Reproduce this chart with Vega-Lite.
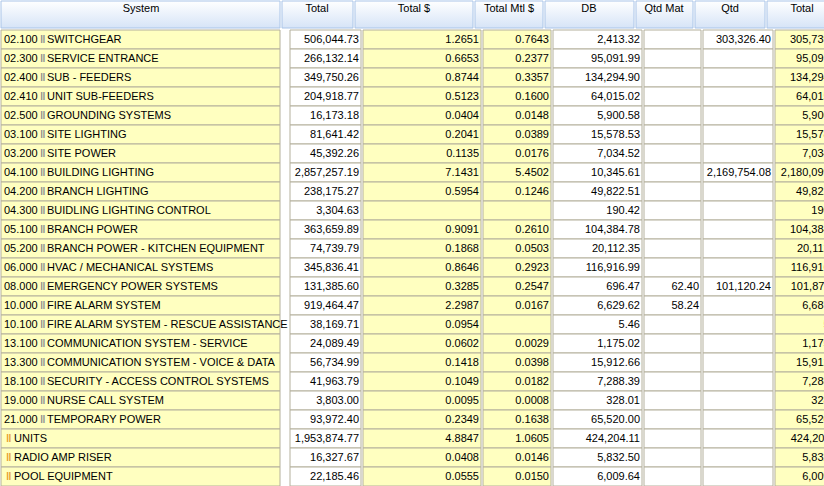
{
  "$schema": "https://vega.github.io/schema/vega-lite/v6.json",
  "padding": 0,
  "spacing": 0,
  "background": "white",
  "config": {"view": {"stroke": null}, "concat": {"spacing": 0}, "text": {"font": "Liberation Sans", "fontSize": 11, "color": "#000000"}},
  "datasets": {
    "rows": [
      {"i": 1, "code": "02.100", "name": "SWITCHGEAR", "total": "506,044.73", "totalD": "1.2651", "totalMtl": "0.7643", "db": "2,413.32", "qtdMat": "", "qtd": "303,326.40", "grand": "305,739.72"},
      {"i": 2, "code": "02.300", "name": "SERVICE ENTRANCE", "total": "266,132.14", "totalD": "0.6653", "totalMtl": "0.2377", "db": "95,091.99", "qtdMat": "", "qtd": "", "grand": "95,091.99"},
      {"i": 3, "code": "02.400", "name": "SUB - FEEDERS", "total": "349,750.26", "totalD": "0.8744", "totalMtl": "0.3357", "db": "134,294.90", "qtdMat": "", "qtd": "", "grand": "134,294.90"},
      {"i": 4, "code": "02.410", "name": "UNIT SUB-FEEDERS", "total": "204,918.77", "totalD": "0.5123", "totalMtl": "0.1600", "db": "64,015.02", "qtdMat": "", "qtd": "", "grand": "64,015.02"},
      {"i": 5, "code": "02.500", "name": "GROUNDING SYSTEMS", "total": "16,173.18", "totalD": "0.0404", "totalMtl": "0.0148", "db": "5,900.58", "qtdMat": "", "qtd": "", "grand": "5,900.58"},
      {"i": 6, "code": "03.100", "name": "SITE LIGHTING", "total": "81,641.42", "totalD": "0.2041", "totalMtl": "0.0389", "db": "15,578.53", "qtdMat": "", "qtd": "", "grand": "15,578.53"},
      {"i": 7, "code": "03.200", "name": "SITE POWER", "total": "45,392.26", "totalD": "0.1135", "totalMtl": "0.0176", "db": "7,034.52", "qtdMat": "", "qtd": "", "grand": "7,034.52"},
      {"i": 8, "code": "04.100", "name": "BUILDING LIGHTING", "total": "2,857,257.19", "totalD": "7.1431", "totalMtl": "5.4502", "db": "10,345.61", "qtdMat": "", "qtd": "2,169,754.08", "grand": "2,180,099.69"},
      {"i": 9, "code": "04.200", "name": "BRANCH LIGHTING", "total": "238,175.27", "totalD": "0.5954", "totalMtl": "0.1246", "db": "49,822.51", "qtdMat": "", "qtd": "", "grand": "49,822.51"},
      {"i": 10, "code": "04.300", "name": "BUIDLING LIGHTING CONTROL", "total": "3,304.63", "totalD": "", "totalMtl": "", "db": "190.42", "qtdMat": "", "qtd": "", "grand": "190.42"},
      {"i": 11, "code": "05.100", "name": "BRANCH POWER", "total": "363,659.89", "totalD": "0.9091", "totalMtl": "0.2610", "db": "104,384.78", "qtdMat": "", "qtd": "", "grand": "104,384.78"},
      {"i": 12, "code": "05.200", "name": "BRANCH POWER - KITCHEN EQUIPMENT", "total": "74,739.79", "totalD": "0.1868", "totalMtl": "0.0503", "db": "20,112.35", "qtdMat": "", "qtd": "", "grand": "20,112.35"},
      {"i": 13, "code": "06.000", "name": "HVAC / MECHANICAL SYSTEMS", "total": "345,836.41", "totalD": "0.8646", "totalMtl": "0.2923", "db": "116,916.99", "qtdMat": "", "qtd": "", "grand": "116,916.99"},
      {"i": 14, "code": "08.000", "name": "EMERGENCY POWER SYSTEMS", "total": "131,385.60", "totalD": "0.3285", "totalMtl": "0.2547", "db": "696.47", "qtdMat": "62.40", "qtd": "101,120.24", "grand": "101,879.11"},
      {"i": 15, "code": "10.000", "name": "FIRE ALARM SYSTEM", "total": "919,464.47", "totalD": "2.2987", "totalMtl": "0.0167", "db": "6,629.62", "qtdMat": "58.24", "qtd": "", "grand": "6,687.86"},
      {"i": 16, "code": "10.100", "name": "FIRE ALARM SYSTEM - RESCUE ASSISTANCE", "total": "38,169.71", "totalD": "0.0954", "totalMtl": "", "db": "5.46", "qtdMat": "", "qtd": "", "grand": "5.46"},
      {"i": 17, "code": "13.100", "name": "COMMUNICATION SYSTEM - SERVICE", "total": "24,089.49", "totalD": "0.0602", "totalMtl": "0.0029", "db": "1,175.02", "qtdMat": "", "qtd": "", "grand": "1,175.02"},
      {"i": 18, "code": "13.300", "name": "COMMUNICATION SYSTEM - VOICE & DATA", "total": "56,734.99", "totalD": "0.1418", "totalMtl": "0.0398", "db": "15,912.66", "qtdMat": "", "qtd": "", "grand": "15,912.66"},
      {"i": 19, "code": "18.100", "name": "SECURITY - ACCESS CONTROL SYSTEMS", "total": "41,963.79", "totalD": "0.1049", "totalMtl": "0.0182", "db": "7,288.39", "qtdMat": "", "qtd": "", "grand": "7,288.39"},
      {"i": 20, "code": "19.000", "name": "NURSE CALL SYSTEM", "total": "3,803.00", "totalD": "0.0095", "totalMtl": "0.0008", "db": "328.01", "qtdMat": "", "qtd": "", "grand": "328.01"},
      {"i": 21, "code": "21.000", "name": "TEMPORARY POWER", "total": "93,972.40", "totalD": "0.2349", "totalMtl": "0.1638", "db": "65,520.00", "qtdMat": "", "qtd": "", "grand": "65,520.00"},
      {"i": 22, "code": "", "name": "UNITS", "total": "1,953,874.77", "totalD": "4.8847", "totalMtl": "1.0605", "db": "424,204.11", "qtdMat": "", "qtd": "", "grand": "424,204.11"},
      {"i": 23, "code": "", "name": "RADIO AMP RISER", "total": "16,327.67", "totalD": "0.0408", "totalMtl": "0.0146", "db": "5,832.50", "qtdMat": "", "qtd": "", "grand": "5,832.50"},
      {"i": 24, "code": "", "name": "POOL EQUIPMENT", "total": "22,185.46", "totalD": "0.0555", "totalMtl": "0.0150", "db": "6,009.64", "qtdMat": "", "qtd": "", "grand": "6,009.64"}
    ]
  },
  "vconcat": [
    {
      "spacing": 0,
      "hconcat": [
        {"width": 279, "height": 28, "data": {"values": [{"h": "System"}]}, "layer": [
          {"mark": {"type": "rect", "stroke": "#a9c4e8", "fill": {"gradient": "linear", "x1": 0, "y1": 0, "x2": 0, "y2": 1, "stops": [{"offset": 0, "color": "#ffffff"}, {"offset": 1, "color": "#d6e4f7"}]}}, "encoding": {"x": {"value": 0}, "x2": {"value": "width"}, "y": {"value": 1}, "y2": {"value": "height"}}},
          {"mark": {"type": "text", "baseline": "middle", "dy": -5}, "encoding": {"text": {"field": "h"}, "x": {"value": 140}, "y": {"value": 14}}}]},
        {"width": 71, "height": 28, "data": {"values": [{"h": "Total"}]}, "layer": [
          {"mark": {"type": "rect", "stroke": "#a9c4e8", "fill": {"gradient": "linear", "x1": 0, "y1": 0, "x2": 0, "y2": 1, "stops": [{"offset": 0, "color": "#ffffff"}, {"offset": 1, "color": "#d6e4f7"}]}}, "encoding": {"x": {"value": 0}, "x2": {"value": "width"}, "y": {"value": 1}, "y2": {"value": "height"}}},
          {"mark": {"type": "text", "baseline": "middle", "dy": -5}, "encoding": {"text": {"field": "h"}, "x": {"value": 35}, "y": {"value": 14}}}]},
        {"width": 118, "height": 28, "data": {"values": [{"h": "Total $"}]}, "layer": [
          {"mark": {"type": "rect", "stroke": "#a9c4e8", "fill": {"gradient": "linear", "x1": 0, "y1": 0, "x2": 0, "y2": 1, "stops": [{"offset": 0, "color": "#ffffff"}, {"offset": 1, "color": "#d6e4f7"}]}}, "encoding": {"x": {"value": 0}, "x2": {"value": "width"}, "y": {"value": 1}, "y2": {"value": "height"}}},
          {"mark": {"type": "text", "baseline": "middle", "dy": -5}, "encoding": {"text": {"field": "h"}, "x": {"value": 59}, "y": {"value": 14}}}]},
        {"width": 68, "height": 28, "data": {"values": [{"h": "Total Mtl $"}]}, "layer": [
          {"mark": {"type": "rect", "stroke": "#a9c4e8", "fill": {"gradient": "linear", "x1": 0, "y1": 0, "x2": 0, "y2": 1, "stops": [{"offset": 0, "color": "#ffffff"}, {"offset": 1, "color": "#d6e4f7"}]}}, "encoding": {"x": {"value": 0}, "x2": {"value": "width"}, "y": {"value": 1}, "y2": {"value": "height"}}},
          {"mark": {"type": "text", "baseline": "middle", "dy": -5}, "encoding": {"text": {"field": "h"}, "x": {"value": 34}, "y": {"value": 14}}}]},
        {"width": 89, "height": 28, "data": {"values": [{"h": "DB"}]}, "layer": [
          {"mark": {"type": "rect", "stroke": "#a9c4e8", "fill": {"gradient": "linear", "x1": 0, "y1": 0, "x2": 0, "y2": 1, "stops": [{"offset": 0, "color": "#ffffff"}, {"offset": 1, "color": "#d6e4f7"}]}}, "encoding": {"x": {"value": 0}, "x2": {"value": "width"}, "y": {"value": 1}, "y2": {"value": "height"}}},
          {"mark": {"type": "text", "baseline": "middle", "dy": -5}, "encoding": {"text": {"field": "h"}, "x": {"value": 44}, "y": {"value": 14}}}]},
        {"width": 57, "height": 28, "data": {"values": [{"h": "Qtd Mat"}]}, "layer": [
          {"mark": {"type": "rect", "stroke": "#a9c4e8", "fill": {"gradient": "linear", "x1": 0, "y1": 0, "x2": 0, "y2": 1, "stops": [{"offset": 0, "color": "#ffffff"}, {"offset": 1, "color": "#d6e4f7"}]}}, "encoding": {"x": {"value": 0}, "x2": {"value": "width"}, "y": {"value": 1}, "y2": {"value": "height"}}},
          {"mark": {"type": "text", "baseline": "middle", "dy": -5}, "encoding": {"text": {"field": "h"}, "x": {"value": 28}, "y": {"value": 14}}}]},
        {"width": 70, "height": 28, "data": {"values": [{"h": "Qtd"}]}, "layer": [
          {"mark": {"type": "rect", "stroke": "#a9c4e8", "fill": {"gradient": "linear", "x1": 0, "y1": 0, "x2": 0, "y2": 1, "stops": [{"offset": 0, "color": "#ffffff"}, {"offset": 1, "color": "#d6e4f7"}]}}, "encoding": {"x": {"value": 0}, "x2": {"value": "width"}, "y": {"value": 1}, "y2": {"value": "height"}}},
          {"mark": {"type": "text", "baseline": "middle", "dy": -5}, "encoding": {"text": {"field": "h"}, "x": {"value": 35}, "y": {"value": 14}}}]},
        {"width": 72, "height": 28, "data": {"values": [{"h": "Total"}]}, "layer": [
          {"mark": {"type": "rect", "stroke": "#a9c4e8", "fill": {"gradient": "linear", "x1": 0, "y1": 0, "x2": 0, "y2": 1, "stops": [{"offset": 0, "color": "#ffffff"}, {"offset": 1, "color": "#d6e4f7"}]}}, "encoding": {"x": {"value": 0}, "x2": {"value": "width"}, "y": {"value": 1}, "y2": {"value": "height"}}},
          {"mark": {"type": "text", "baseline": "middle", "dy": -5}, "encoding": {"text": {"field": "h"}, "x": {"value": 35}, "y": {"value": 14}}}]}
      ]
    },
    {
      "data": {"name": "rows"},
      "spacing": 0,
      "hconcat": [
        {"width": 279, "height": 456, "layer": [
          {"mark": {"type": "rect", "fill": "#ffffc0", "stroke": "#b4b09c"}, "encoding": {"y": {"field": "i", "type": "ordinal", "axis": null, "scale": {"paddingInner": 0, "paddingOuter": 0}}, "x": {"value": 0}, "x2": {"value": "width"}}},
          {"mark": {"type": "text", "align": "left", "baseline": "middle"}, "encoding": {"y": {"field": "i", "type": "ordinal", "axis": null}, "x": {"value": 3}, "text": {"field": "code"}}},
          {"transform": [{"filter": "datum.code !== ''"}], "mark": {"type": "text", "align": "left", "baseline": "middle", "fontWeight": "bold", "color": "#909090"}, "encoding": {"y": {"field": "i", "type": "ordinal", "axis": null}, "x": {"value": 39}, "text": {"value": "‖"}}},
          {"transform": [{"filter": "datum.code !== ''"}], "mark": {"type": "text", "align": "left", "baseline": "middle"}, "encoding": {"y": {"field": "i", "type": "ordinal", "axis": null}, "x": {"value": 46}, "text": {"field": "name"}}},
          {"transform": [{"filter": "datum.code === ''"}], "mark": {"type": "text", "align": "left", "baseline": "middle", "fontWeight": "bold", "color": "#e8a030"}, "encoding": {"y": {"field": "i", "type": "ordinal", "axis": null}, "x": {"value": 5}, "text": {"value": "‖"}}},
          {"transform": [{"filter": "datum.code === ''"}], "mark": {"type": "text", "align": "left", "baseline": "middle"}, "encoding": {"y": {"field": "i", "type": "ordinal", "axis": null}, "x": {"value": 13}, "text": {"field": "name"}}}
        ]},
        {"width": 71, "height": 456, "layer": [
          {"mark": {"type": "rect", "fill": "#ffffff", "stroke": "#b4b09c"}, "encoding": {"y": {"field": "i", "type": "ordinal", "axis": null, "scale": {"paddingInner": 0, "paddingOuter": 0}}, "x": {"value": 0}, "x2": {"value": "width"}}},
          {"mark": {"type": "text", "align": "right", "baseline": "middle", "dx": -2}, "encoding": {"y": {"field": "i", "type": "ordinal", "axis": null}, "x": {"value": "width"}, "text": {"field": "total"}}}
        ]},
        {"width": 118, "height": 456, "layer": [
          {"mark": {"type": "rect", "fill": "#ffffc0", "stroke": "#b4b09c"}, "encoding": {"y": {"field": "i", "type": "ordinal", "axis": null, "scale": {"paddingInner": 0, "paddingOuter": 0}}, "x": {"value": 0}, "x2": {"value": "width"}}},
          {"mark": {"type": "text", "align": "right", "baseline": "middle", "dx": -2}, "encoding": {"y": {"field": "i", "type": "ordinal", "axis": null}, "x": {"value": "width"}, "text": {"field": "totalD"}}}
        ]},
        {"width": 68, "height": 456, "layer": [
          {"mark": {"type": "rect", "fill": "#ffffc0", "stroke": "#b4b09c"}, "encoding": {"y": {"field": "i", "type": "ordinal", "axis": null, "scale": {"paddingInner": 0, "paddingOuter": 0}}, "x": {"value": 0}, "x2": {"value": "width"}}},
          {"mark": {"type": "text", "align": "right", "baseline": "middle", "dx": -2}, "encoding": {"y": {"field": "i", "type": "ordinal", "axis": null}, "x": {"value": "width"}, "text": {"field": "totalMtl"}}}
        ]},
        {"width": 89, "height": 456, "layer": [
          {"mark": {"type": "rect", "fill": "#ffffff", "stroke": "#b4b09c"}, "encoding": {"y": {"field": "i", "type": "ordinal", "axis": null, "scale": {"paddingInner": 0, "paddingOuter": 0}}, "x": {"value": 0}, "x2": {"value": "width"}}},
          {"mark": {"type": "text", "align": "right", "baseline": "middle", "dx": -2}, "encoding": {"y": {"field": "i", "type": "ordinal", "axis": null}, "x": {"value": "width"}, "text": {"field": "db"}}}
        ]},
        {"width": 57, "height": 456, "layer": [
          {"mark": {"type": "rect", "fill": "#ffffff", "stroke": "#b4b09c"}, "encoding": {"y": {"field": "i", "type": "ordinal", "axis": null, "scale": {"paddingInner": 0, "paddingOuter": 0}}, "x": {"value": 0}, "x2": {"value": "width"}}},
          {"mark": {"type": "text", "align": "right", "baseline": "middle", "dx": -2}, "encoding": {"y": {"field": "i", "type": "ordinal", "axis": null}, "x": {"value": "width"}, "text": {"field": "qtdMat"}}}
        ]},
        {"width": 70, "height": 456, "layer": [
          {"mark": {"type": "rect", "fill": "#ffffff", "stroke": "#b4b09c"}, "encoding": {"y": {"field": "i", "type": "ordinal", "axis": null, "scale": {"paddingInner": 0, "paddingOuter": 0}}, "x": {"value": 0}, "x2": {"value": "width"}}},
          {"mark": {"type": "text", "align": "right", "baseline": "middle", "dx": -2}, "encoding": {"y": {"field": "i", "type": "ordinal", "axis": null}, "x": {"value": "width"}, "text": {"field": "qtd"}}}
        ]},
        {"width": 72, "height": 456, "layer": [
          {"mark": {"type": "rect", "fill": "#ffffc0", "stroke": "#b4b09c"}, "encoding": {"y": {"field": "i", "type": "ordinal", "axis": null, "scale": {"paddingInner": 0, "paddingOuter": 0}}, "x": {"value": 0}, "x2": {"value": "width"}}},
          {"mark": {"type": "text", "align": "right", "baseline": "middle", "dx": -2}, "encoding": {"y": {"field": "i", "type": "ordinal", "axis": null}, "x": {"value": "width"}, "text": {"field": "grand"}}}
        ]}
      ]
    }
  ]
}
